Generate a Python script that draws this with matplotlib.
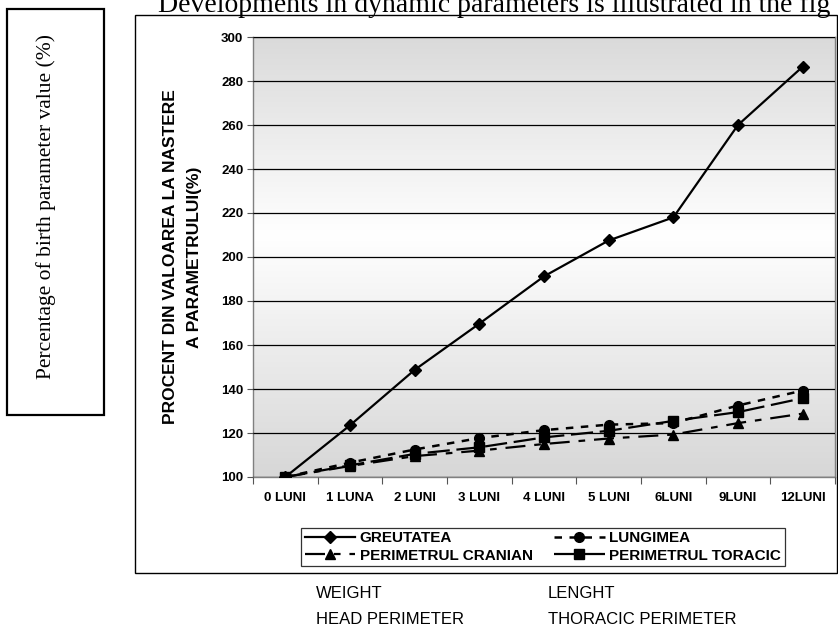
import numpy as np
import matplotlib
matplotlib.use('Agg')
import matplotlib.pyplot as plt
from matplotlib.patches import Rectangle
from matplotlib.colors import LinearSegmentedColormap

# data
months = ['0 LUNI', '1 LUNA', '2 LUNI', '3 LUNI', '4 LUNI', '5 LUNI', '6LUNI', '9LUNI', '12LUNI']
greutatea = [100, 123.5, 148.7, 169.7, 191.2, 207.5, 218, 260, 286.5]
lungimea = [100, 106.5, 112.5, 117.7, 121.3, 123.8, 124.5, 132.5, 139.3]
cranian = [100, 105, 109.5, 112, 115, 117.5, 119.3, 124.5, 128.8]
toracic = [100, 105.3, 110.5, 113.5, 118, 121, 125.5, 129.5, 135.8]
series_names = ['GREUTATEA', 'LUNGIMEA', 'PERIMETRUL CRANIAN', 'PERIMETRUL TORACIC']
english_names = ['WEIGHT', 'LENGHT', 'HEAD PERIMETER', 'THORACIC PERIMETER']
yticks = [100, 120, 140, 160, 180, 200, 220, 240, 260, 280, 300]

plt.rcParams['font.family'] = ['Liberation Sans', 'DejaVu Sans']

fig = plt.figure(figsize=(8.38, 6.30), dpi=100)
W, H = 838.0, 630.0

# axes placed to match the plot area in pixels
ax = fig.add_axes([253 / W, 1 - 477 / H, (835 - 253) / W, (477 - 37) / H])

# grey-white-grey gradient background like Excel
cmap = LinearSegmentedColormap.from_list('bg', [(0.0, '#d7d7d7'), (0.55, '#ffffff'), (1.0, '#dadada')])
grad = np.linspace(0, 1, 256).reshape(-1, 1)
ax.imshow(grad, extent=[0, 1, 0, 1], transform=ax.transAxes, cmap=cmap, aspect='auto', origin='lower', zorder=0)

x = np.arange(len(months))
ax.plot(x, greutatea, color='black', lw=1.6, marker='D', ms=6.5, zorder=3, label=series_names[0])
ax.plot(x, lungimea, color='black', lw=1.8, dashes=(3, 3), marker='o', ms=7, zorder=3, label=series_names[1])
ax.plot(x, cranian, color='black', lw=1.6, dashes=(9, 4, 3, 4), marker='^', ms=7.5, zorder=3, label=series_names[2])
ax.plot(x, toracic, color='black', lw=1.6, dashes=(10, 3), marker='s', ms=6.5, zorder=3, label=series_names[3])

ax.set_xlim(-0.5, len(months) - 0.5)
ax.set_ylim(100, 300)
ax.set_yticks(yticks)
ax.set_yticklabels([str(v) for v in yticks], fontsize=9.5, fontweight='bold')
ax.set_xticks(x)
ax.set_xticklabels(months, fontsize=9.5, fontweight='bold')
ax.set_xticks(np.arange(-0.5, len(months)), minor=True)
ax.tick_params(axis='x', which='major', length=0, pad=11)
ax.tick_params(axis='x', which='minor', length=5, width=0.8, color='#555555')
ax.tick_params(axis='y', length=4, width=0.8, color='#555555', pad=3)
ax.yaxis.grid(True, color='black', lw=0.9)
ax.set_axisbelow(False)
for sp in ax.spines.values():
    sp.set_color('#808080')
    sp.set_linewidth(1.0)

ax.set_ylabel('PROCENT DIN VALOAREA LA NASTERE\nA PARAMETRULUI(%)', fontsize=12.5,
              fontweight='bold', linespacing=1.75, labelpad=14)

# legend in row order
h, l = ax.get_legend_handles_labels()
order = [0, 2, 1, 3]
leg = fig.legend([h[i] for i in order], [l[i] for i in order], loc='center',
                 bbox_to_anchor=(543 / W, 1 - 547 / H), ncol=2, frameon=True, fancybox=False,
                 edgecolor='black', prop={'weight': 'bold', 'size': 11}, handlelength=3.3,
                 handletextpad=0.3, columnspacing=1.4, borderpad=0.25, labelspacing=0.2)
leg.get_frame().set_linewidth(0.9)

# outer chart frame and the left boxed caption
fig.patches.append(Rectangle((135 / W, 1 - 573 / H), (837 - 135) / W, (573 - 15) / H,
                             transform=fig.transFigure, fill=False, ec='black', lw=1.0))
fig.patches.append(Rectangle((7 / W, 1 - 415 / H), (104 - 7) / W, (415 - 9) / H,
                             transform=fig.transFigure, fill=False, ec='black', lw=1.6))
fig.text(46 / W, 1 - 207 / H, 'Percentage of birth parameter value (%)', rotation=90,
         ha='center', va='center', fontsize=15.5, family=['Liberation Serif', 'DejaVu Serif'])

# sentence at the top of the page (cut at the edges in the source)
fig.text(158 / W, 1 - 12 / H, 'Developments in dynamic parameters is illustrated in the fig',
         ha='left', va='baseline', fontsize=20, family=['Liberation Serif', 'DejaVu Serif'])

# english translations under the chart
narrow = ['Liberation Sans Narrow', 'Liberation Sans']
fig.text(316 / W, 1 - 593 / H, english_names[0], ha='left', va='center', fontsize=12, family=narrow)
fig.text(548 / W, 1 - 593 / H, english_names[1], ha='left', va='center', fontsize=12, family=narrow)
fig.text(316 / W, 1 - 619 / H, english_names[2], ha='left', va='center', fontsize=12, family=narrow)
fig.text(548 / W, 1 - 619 / H, english_names[3], ha='left', va='center', fontsize=12, family=narrow)

fig.savefig('out.png', dpi=100)
